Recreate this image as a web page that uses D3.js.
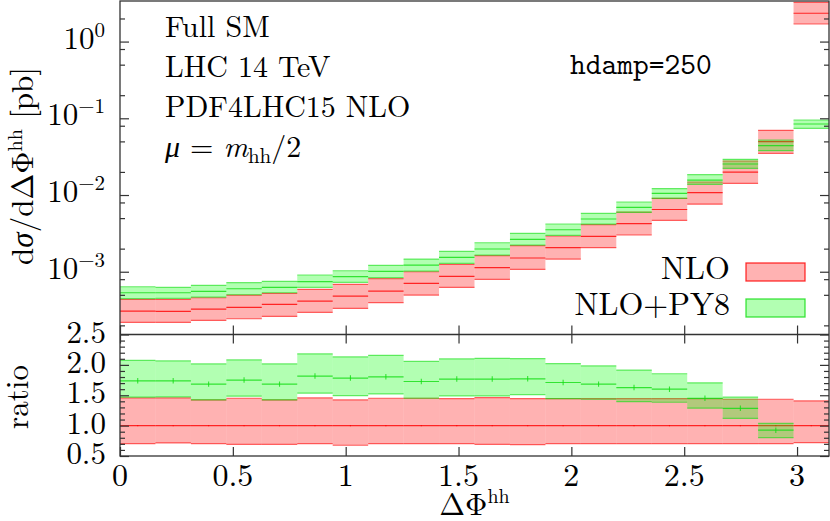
<!DOCTYPE html>
<html>
<head>
<meta charset="utf-8">
<script src="https://cdn.jsdelivr.net/npm/d3@7"></script>
<style>
body { margin: 0; background: #fff; }
</style>
</head>
<body>
<div id="chart"></div>
<script>
// bin edges in Delta Phi^hh (20 bins from 0 to pi)
var binEdges = [0, 0.1571, 0.3142, 0.4712, 0.6283, 0.7854, 0.9425, 1.0996, 1.2566, 1.4137,
    1.5708, 1.7279, 1.8850, 2.0420, 2.1991, 2.3562, 2.5133, 2.6704, 2.8274, 2.9845, 3.1416];

// NLO, dsigma/dDeltaPhi [pb]: central value and scale band
var nloCentral = [3.07e-4, 3.05e-4, 3.26e-4, 3.44e-4, 3.76e-4, 4.15e-4, 4.82e-4, 5.60e-4, 7.06e-4, 8.71e-4,
    1.128e-3, 1.509e-3, 2.056e-3, 2.894e-3, 4.225e-3, 6.471e-3, 1.072e-2, 1.983e-2, 4.954e-2, 2.339];
var nloLow = [2.19e-4, 2.19e-4, 2.32e-4, 2.44e-4, 2.62e-4, 2.96e-4, 3.33e-4, 3.96e-4, 4.97e-4, 6.26e-4,
    7.96e-4, 1.075e-3, 1.464e-3, 2.056e-3, 3.010e-3, 4.679e-3, 7.586e-3, 1.421e-2, 3.497e-2, 1.696];
var nloHigh = [4.37e-4, 4.37e-4, 4.58e-4, 4.97e-4, 5.23e-4, 5.90e-4, 6.85e-4, 8.13e-4, 1.000e-3, 1.249e-3,
    1.617e-3, 2.183e-3, 2.921e-3, 4.101e-3, 6.004e-3, 9.057e-3, 1.477e-2, 2.776e-2, 6.978e-2, 3.234];

// NLO+PY8
var py8Central = [5.32e-4, 5.32e-4, 5.55e-4, 6.00e-4, 6.26e-4, 7.41e-4, 8.61e-4, 1.012e-3, 1.223e-3, 1.541e-3,
    1.977e-3, 2.645e-3, 3.528e-3, 4.866e-3, 6.912e-3, 1.052e-2, 1.560e-2, 2.536e-2, 4.394e-2, 8.428e-2];
var py8Low = [4.47e-4, 4.50e-4, 4.68e-4, 5.01e-4, 5.32e-4, 6.26e-4, 7.28e-4, 8.40e-4, 1.021e-3, 1.287e-3,
    1.651e-3, 2.229e-3, 2.983e-3, 4.162e-3, 5.951e-3, 9.057e-3, 1.379e-2, 2.229e-2, 3.781e-2, 7.406e-2];
var py8High = [6.37e-4, 6.26e-4, 6.65e-4, 7.19e-4, 7.50e-4, 9.06e-4, 1.030e-3, 1.212e-3, 1.464e-3, 1.845e-3,
    2.388e-3, 3.167e-3, 4.187e-3, 5.773e-3, 8.103e-3, 1.215e-2, 1.840e-2, 2.921e-2, 5.213e-2, 9.502e-2];

// ratio panel (normalised to NLO central)
var nloRatio = [1, 1, 1, 1, 1, 1, 1, 1, 1, 1, 1, 1, 1, 1, 1, 1, 1, 1, 1, 1];
var nloRatioLow = [0.705, 0.715, 0.705, 0.693, 0.693, 0.705, 0.677, 0.705, 0.705, 0.705,
    0.693, 0.688, 0.705, 0.705, 0.705, 0.705, 0.705, 0.705, 0.705, 0.721];
var nloRatioHigh = [1.456, 1.456, 1.423, 1.451, 1.423, 1.456, 1.423, 1.451, 1.451, 1.444,
    1.461, 1.444, 1.444, 1.444, 1.444, 1.444, 1.444, 1.434, 1.434, 1.406];
var nloRatioErr = [0.01, 0.01, 0.01, 0.01, 0.01, 0.01, 0.01, 0.01, 0.01, 0.01,
    0.01, 0.01, 0.01, 0.01, 0.01, 0.01, 0.01, 0.01, 0.01, 0.01];
var py8Ratio = [1.738, 1.738, 1.683, 1.750, 1.683, 1.816, 1.783, 1.804, 1.726, 1.766,
    1.766, 1.771, 1.710, 1.683, 1.627, 1.600, 1.450, 1.285, 0.925, 0.036];
var py8RatioLow = [1.468, 1.473, 1.423, 1.484, 1.423, 1.534, 1.494, 1.522, 1.451, 1.489,
    1.489, 1.511, 1.444, 1.434, 1.395, 1.385, 1.287, 1.119, 0.804, 0.032];
var py8RatioHigh = [2.075, 2.065, 2.015, 2.081, 2.015, 2.181, 2.131, 2.158, 2.058, 2.098,
    2.108, 2.103, 2.020, 1.982, 1.915, 1.854, 1.705, 1.468, 1.036, 0.041];
var py8RatioErr = [0.045, 0.045, 0.045, 0.045, 0.045, 0.045, 0.045, 0.045, 0.045, 0.045,
    0.045, 0.045, 0.045, 0.045, 0.045, 0.045, 0.045, 0.045, 0.045, 0.045];

// tick values
var mainMajor = [1e-3, 1e-2, 1e-1, 1],
    mainExp = ["\u22123", "\u22122", "\u22121", "0"],
    mainMinor = [2e-4, 5e-4, 8e-4, 2e-3, 5e-3, 8e-3, 2e-2, 5e-2, 8e-2, 2e-1, 5e-1, 8e-1, 2],
    ratioMajor = [0.5, 1.0, 1.5, 2.0, 2.5],
    ratioMinor = [0.6, 0.7, 0.8, 0.9, 1.1, 1.2, 1.3, 1.4, 1.6, 1.7, 1.8, 1.9, 2.1, 2.2, 2.3, 2.4],
    xMajor = [0, 0.5, 1, 1.5, 2, 2.5, 3];

var width = 830, height = 521;
var frame = { left: 120, right: 829, top: 1, split: 334.5, bottom: 456 };
var SERIF = "'Latin Modern Roman', 'Liberation Serif', serif";
var MONO = "'Latin Modern Mono', 'DejaVu Sans Mono', monospace";

var x = d3.scaleLinear().domain([0, Math.PI]).range([frame.left, frame.right]);
var yMain = d3.scaleLog().domain([1.52e-4, 3.38]).range([frame.split, frame.top]);
var yRatio = d3.scaleLinear().domain([0.5, 2.5]).range([frame.bottom, frame.split]);

var RED = "#ff0000", GREEN = "#00ff00", GREENLINE = "#11dd11";

var svg = d3.select("#chart").append("svg")
    .attr("width", width)
    .attr("height", height);

// set font inline on each text
function font(sel, size, fam) {
    return sel.style("font-family", fam || SERIF)
        .style("font-size", size + "px")
        .style("fill", "#000");
}

var defs = svg.append("defs");
defs.append("clipPath").attr("id", "clipMain").append("rect")
    .attr("x", frame.left).attr("y", frame.top)
    .attr("width", frame.right - frame.left).attr("height", frame.split - frame.top);
defs.append("clipPath").attr("id", "clipRatio").append("rect")
    .attr("x", frame.left).attr("y", frame.split)
    .attr("width", frame.right - frame.left).attr("height", frame.bottom - frame.split);

function makeBins(c, lo, hi, err) {
    return c.map(function(v, i) {
        return { x0: binEdges[i], x1: binEdges[i + 1], c: v, lo: lo[i], hi: hi[i], err: err ? err[i] : 0 };
    });
}

function drawBands(g, bins, y, fill, line, showErr) {
    var s = g.append("g");
    s.selectAll("rect").data(bins).enter().append("rect")
        .attr("x", function(d) { return x(d.x0); })
        .attr("width", function(d) { return x(d.x1) - x(d.x0); })
        .attr("y", function(d) { return y(d.hi); })
        .attr("height", function(d) { return y(d.lo) - y(d.hi); })
        .attr("fill", fill)
        .attr("fill-opacity", 0.3);
    ["lo", "hi"].forEach(function(k) {
        s.selectAll(".e" + k).data(bins).enter().append("line")
            .attr("x1", function(d) { return x(d.x0); })
            .attr("x2", function(d) { return x(d.x1); })
            .attr("y1", function(d) { return y(d[k]); })
            .attr("y2", function(d) { return y(d[k]); })
            .attr("stroke", line).attr("stroke-opacity", 0.6).attr("stroke-width", 1.2);
    });
    s.selectAll(".c").data(bins).enter().append("line")
        .attr("x1", function(d) { return x(d.x0); })
        .attr("x2", function(d) { return x(d.x1); })
        .attr("y1", function(d) { return y(d.c); })
        .attr("y2", function(d) { return y(d.c); })
        .attr("stroke", line).attr("stroke-opacity", 0.8).attr("stroke-width", 1.2);
    if (showErr) {
        s.selectAll(".err").data(bins).enter().append("line")
            .attr("x1", function(d) { return x((d.x0 + d.x1) / 2); })
            .attr("x2", function(d) { return x((d.x0 + d.x1) / 2); })
            .attr("y1", function(d) { return y(d.c - d.err); })
            .attr("y2", function(d) { return y(d.c + d.err); })
            .attr("stroke", line).attr("stroke-opacity", 0.8).attr("stroke-width", 1.1);
    }
}

// main panel
var gMain = svg.append("g").attr("clip-path", "url(#clipMain)");
drawBands(gMain, makeBins(nloCentral, nloLow, nloHigh), yMain, RED, RED, false);
drawBands(gMain, makeBins(py8Central, py8Low, py8High), yMain, GREEN, GREENLINE, false);

// ratio panel
var gRatio = svg.append("g").attr("clip-path", "url(#clipRatio)");
drawBands(gRatio, makeBins(nloRatio, nloRatioLow, nloRatioHigh, nloRatioErr), yRatio, RED, RED, true);
drawBands(gRatio, makeBins(py8Ratio, py8RatioLow, py8RatioHigh, py8RatioErr), yRatio, GREEN, GREENLINE, true);

// ticks (pointing inwards, mirrored)
function tickGroup(axis, tx, ty) {
    svg.append("g")
        .attr("transform", "translate(" + tx + "," + ty + ")")
        .style("color", "#333")
        .call(axis)
        .call(function(g) { g.select(".domain").remove(); })
        .selectAll("line").attr("stroke-width", 1.2);
}
tickGroup(d3.axisLeft(yMain).tickValues(mainMajor).tickSize(-9).tickFormat(""), frame.left, 0);
tickGroup(d3.axisLeft(yMain).tickValues(mainMinor).tickSize(-5).tickFormat(""), frame.left, 0);
tickGroup(d3.axisRight(yMain).tickValues(mainMajor).tickSize(-9).tickFormat(""), frame.right, 0);
tickGroup(d3.axisRight(yMain).tickValues(mainMinor).tickSize(-5).tickFormat(""), frame.right, 0);
tickGroup(d3.axisLeft(yRatio).tickValues(ratioMajor).tickSize(-9).tickFormat(""), frame.left, 0);
tickGroup(d3.axisLeft(yRatio).tickValues(ratioMinor).tickSize(-5).tickFormat(""), frame.left, 0);
tickGroup(d3.axisRight(yRatio).tickValues(ratioMajor).tickSize(-9).tickFormat(""), frame.right, 0);
tickGroup(d3.axisRight(yRatio).tickValues(ratioMinor).tickSize(-5).tickFormat(""), frame.right, 0);
tickGroup(d3.axisBottom(x).tickValues(xMajor).tickSize(-9).tickFormat(""), 0, frame.split);
tickGroup(d3.axisTop(x).tickValues(xMajor).tickSize(-9).tickFormat(""), 0, frame.split);
tickGroup(d3.axisBottom(x).tickValues(xMajor).tickSize(-9).tickFormat(""), 0, frame.bottom);

// frame
svg.append("rect")
    .attr("x", frame.left).attr("y", frame.top)
    .attr("width", frame.right - frame.left).attr("height", frame.bottom - frame.top)
    .attr("fill", "none").attr("stroke", "#333").attr("stroke-width", 1.3);
svg.append("line")
    .attr("x1", frame.left).attr("x2", frame.right)
    .attr("y1", frame.split).attr("y2", frame.split)
    .attr("stroke", "#333").attr("stroke-width", 1.3);

// tick labels
var mainLabels = font(svg.append("g").selectAll("text").data(mainMajor).enter().append("text"), 31)
    .attr("x", 105)
    .attr("y", function(d) { return yMain(d) + 7; })
    .attr("text-anchor", "end");
mainLabels.append("tspan").text("10");
mainLabels.append("tspan")
    .attr("dy", -12)
    .style("font-size", "21px")
    .text(function(d, i) { return mainExp[i]; });

font(svg.append("g").selectAll("text").data(ratioMajor).enter().append("text"), 31)
    .attr("x", 106)
    .attr("y", function(d) { return yRatio(d) + 8; })
    .attr("text-anchor", "end")
    .text(d3.format(".1f"));

font(svg.append("g").selectAll("text").data(xMajor).enter().append("text"), 32)
    .attr("x", function(d) { return x(d); })
    .attr("y", 486)
    .attr("text-anchor", "middle")
    .text(function(d) { return d; });

// axis titles
var yTitle = font(svg.append("text"), 31)
    .attr("transform", "translate(33,166) rotate(-90)")
    .attr("text-anchor", "middle");
yTitle.append("tspan").text("d");
yTitle.append("tspan").style("font-style", "italic").text("\u03c3");
yTitle.append("tspan").text("/d\u0394\u03a6");
yTitle.append("tspan").attr("dy", -11).style("font-size", "20px").text("hh");
yTitle.append("tspan").attr("dy", 11).text(" [pb]");

font(svg.append("text"), 31)
    .attr("transform", "translate(28,397) rotate(-90)")
    .attr("text-anchor", "middle")
    .text("ratio");

var xTitle = font(svg.append("text"), 31)
    .attr("x", 474.5)
    .attr("y", 515)
    .attr("text-anchor", "middle");
xTitle.append("tspan").text("\u0394\u03a6");
xTitle.append("tspan").attr("dy", -12).style("font-size", "20px").text("hh");

// annotations
var notes = ["Full SM", "LHC 14 TeV", "PDF4LHC15 NLO"];
font(svg.append("g").selectAll("text").data(notes).enter().append("text"), 30)
    .attr("x", 165)
    .attr("y", function(d, i) { return 37 + i * 40; })
    .text(function(d) { return d; });

var mu = font(svg.append("text"), 30).attr("x", 165).attr("y", 157);
mu.append("tspan").style("font-style", "italic").text("\u03bc");
mu.append("tspan").text(" = ");
mu.append("tspan").style("font-style", "italic").text("m");
mu.append("tspan").attr("dy", 6).style("font-size", "21px").text("hh");
mu.append("tspan").attr("dy", -6).text("/2");

font(svg.append("text"), 30, MONO)
    .attr("x", 570).attr("y", 74)
    .text("hdamp=250");

// legend
var legendItems = [
    { label: "NLO", color: RED, line: RED },
    { label: "NLO+PY8", color: GREEN, line: GREENLINE }
];
var legend = svg.append("g").selectAll("g").data(legendItems).enter().append("g");
font(legend.append("text"), 32)
    .attr("x", 730)
    .attr("y", function(d, i) { return 279 + i * 36; })
    .attr("text-anchor", "end")
    .text(function(d) { return d.label; });
legend.append("rect")
    .attr("x", 746)
    .attr("y", function(d, i) { return 263 + i * 36; })
    .attr("width", 59).attr("height", 18)
    .attr("fill", function(d) { return d.color; })
    .attr("fill-opacity", 0.3)
    .attr("stroke", function(d) { return d.line; })
    .attr("stroke-opacity", 0.8)
    .attr("stroke-width", 1.3);
</script>
</body>
</html>
